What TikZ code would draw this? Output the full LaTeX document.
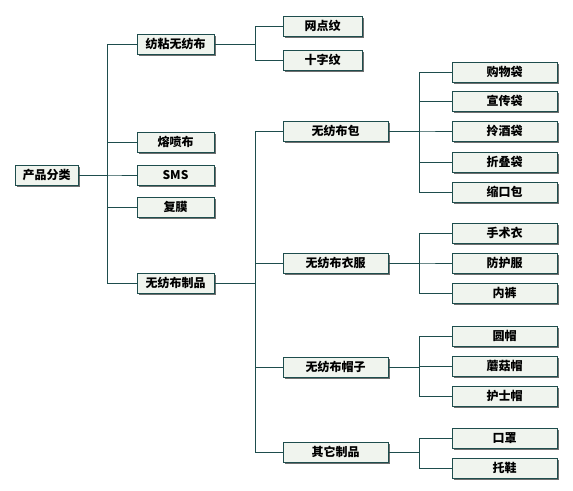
\documentclass[tikz,border=0pt]{standalone}
\usepackage{fontspec}
\newfontfamily\cjk{Noto Sans CJK SC}
\usetikzlibrary{shadows}
\definecolor{boxfill}{HTML}{F0F4EE}
\definecolor{boxline}{HTML}{1E4D4D}
\definecolor{shad}{HTML}{6F6F6F}
\tikzset{
  box/.style={draw=boxline, fill=boxfill, line width=1pt, minimum height=20pt, inner sep=0pt,
    font=\cjk\bfseries\fontsize{12}{12}\selectfont, text=black,
    general shadow={fill=shad, shadow xshift=2pt, shadow yshift=-2pt}},
  rootbox/.style={box, minimum width=63pt},
  lonebox/.style={box, minimum width=77pt},
  ltwobox/.style={box, minimum width=105pt},
  leafbox/.style={box, minimum width=105pt},
  smallbox/.style={box, minimum width=79pt},
  conn/.style={draw=boxline, line width=1pt},
}
\begin{document}
\begin{tikzpicture}[x=1pt,y=-1pt]
\useasboundingbox (0,0) rectangle (573,490);
\coordinate (t1) at (107,0);
\coordinate (t2) at (255,0);
\coordinate (t3) at (419,0);

\node[rootbox] (root) at (46.5,175) {产品分类};

\node[lonebox] (fz) at (175.5,44) {纺粘无纺布};
\node[lonebox] (rp) at (175.5,142) {熔喷布};
\node[lonebox] (sms) at (175.5,175) {SMS};
\node[lonebox] (fm) at (175.5,207) {复膜};
\node[lonebox] (zp) at (175.5,283) {无纺布制品};

\node[smallbox] (wd) at (322.5,26) {网点纹};
\node[smallbox] (sz) at (322.5,60) {十字纹};

\node[ltwobox] (bao) at (335.5,131) {无纺布包};
\node[ltwobox] (yf) at (335.5,263) {无纺布衣服};
\node[ltwobox] (mz) at (335.5,367) {无纺布帽子};
\node[ltwobox] (qt) at (335.5,452) {其它制品};

\node[leafbox] (gw) at (504.5,72) {购物袋};
\node[leafbox] (xc) at (504.5,101) {宣传袋};
\node[leafbox] (lj) at (504.5,131) {拎酒袋};
\node[leafbox] (zd) at (504.5,162) {折叠袋};
\node[leafbox] (sk) at (504.5,192) {缩口包};

\node[leafbox] (ss) at (504.5,233) {手术衣};
\node[leafbox] (fh) at (504.5,263) {防护服};
\node[leafbox] (nk) at (504.5,293) {内裤};

\node[leafbox] (ym) at (504.5,336) {圆帽};
\node[leafbox] (mg) at (504.5,366) {蘑菇帽};
\node[leafbox] (hs) at (504.5,396) {护士帽};

\node[leafbox] (kz) at (504.5,438) {口罩};
\node[leafbox] (tx) at (504.5,468) {托鞋};

\begin{scope}[on background layer/.try]
\end{scope}

\foreach \c in {fz,rp,sms,fm,zp}
  \draw[conn] (root.east) -- (root.east -| t1) |- (\c.west);
\foreach \c in {wd,sz}
  \draw[conn] (fz.east) -- (fz.east -| t2) |- (\c.west);
\foreach \c in {bao,yf,mz,qt}
  \draw[conn] (zp.east) -- (zp.east -| t2) |- (\c.west);
\foreach \c in {gw,xc,lj,zd,sk}
  \draw[conn] (bao.east) -- (bao.east -| t3) |- (\c.west);
\foreach \c in {ss,fh,nk}
  \draw[conn] (yf.east) -- (yf.east -| t3) |- (\c.west);
\foreach \c in {ym,mg,hs}
  \draw[conn] (mz.east) -- (mz.east -| t3) |- (\c.west);
\foreach \c in {kz,tx}
  \draw[conn] (qt.east) -- (qt.east -| t3) |- (\c.west);
\end{tikzpicture}
\end{document}
